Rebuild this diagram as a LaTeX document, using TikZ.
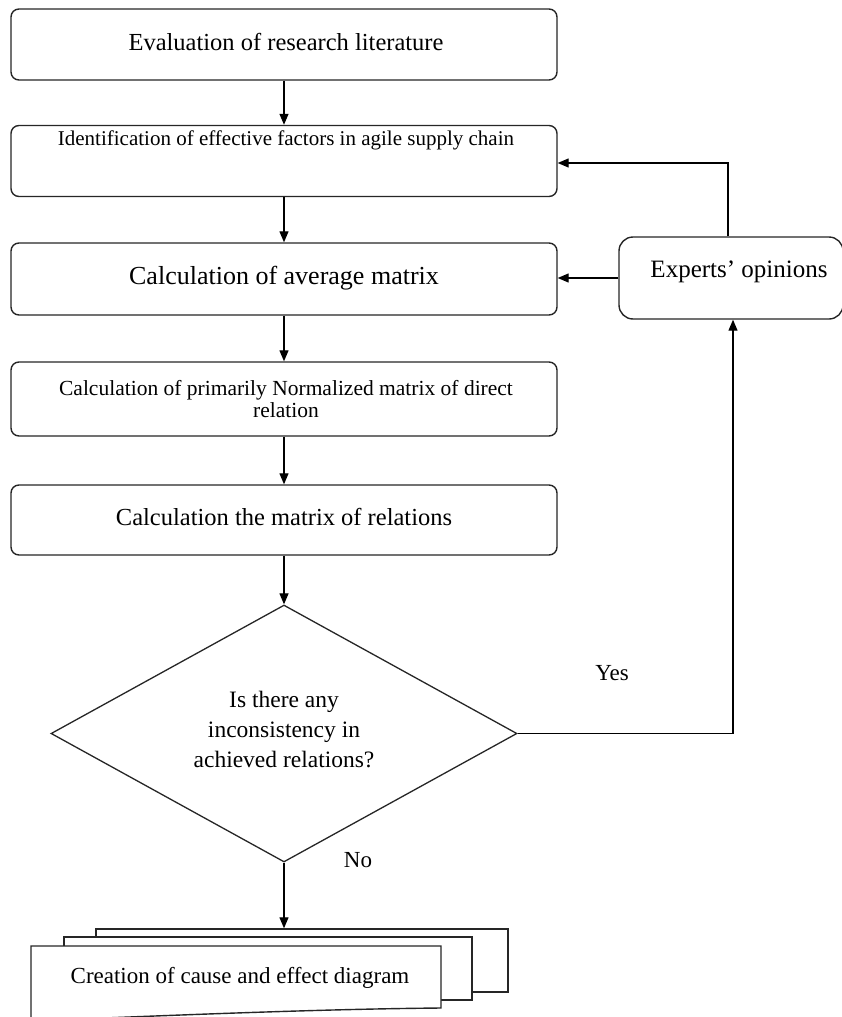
\documentclass[tikz,border=0pt]{standalone}
\usepackage{fontspec}
\setmainfont{Liberation Serif}
\usetikzlibrary{arrows.meta,shapes.geometric}
\begin{document}
\begin{tikzpicture}[x=1pt,y=-1pt,
  box/.style={draw=black!85, line width=1.4pt, rounded corners=8pt, fill=white,
    minimum width=546pt, minimum height=71pt, inner sep=0pt},
  lbl/.style={inner sep=0pt, align=center},
  arr/.style={line width=1.2pt, -{Triangle[length=11pt,width=9pt]}},
  doc/.style={draw=black!85, line width=1.4pt, fill=white}]
\useasboundingbox (0,0) rectangle (842,1017);
% boxes
\node[box] (b1) at (284,44.5) {};
\node[lbl, font=\fontsize{24.5}{27}\selectfont] (t1) at (286,42) {Evaluation of research literature};
\node[box] (b2) at (284,161) {};
\node[lbl, font=\fontsize{21}{24}\selectfont] (t2) at (286,140) {Identification of effective factors in agile supply chain};
\node[box, minimum height=72pt] (b3) at (284,279) {};
\node[lbl, font=\fontsize{26}{29}\selectfont] (t3) at (284,278) {Calculation of average matrix};
\node[box, minimum height=74pt] (b4) at (284,399) {};
\node[lbl, font=\fontsize{21.5}{23}\selectfont] (t4) at (286,399) {Calculation of primarily Normalized matrix of direct\\[-1pt] relation};
\node[box, minimum height=70pt] (b5) at (284,520) {};
\node[lbl, font=\fontsize{24.5}{27}\selectfont] (t5) at (284,517) {Calculation the matrix of relations};
% experts
\node[box, minimum width=224pt, minimum height=82pt, rounded corners=14pt] (ex) at (731,278) {};
\node[lbl, font=\fontsize{25}{28}\selectfont] (tex) at (739,272) {Experts' opinions};
% diamond
\node[draw=black!85, line width=1.3pt, diamond, minimum width=466pt, minimum height=257pt, inner sep=0pt, fill=white] (dia) at (284,733.5) {};
\node[lbl, font=\fontsize{23.5}{30}\selectfont] (tdia) at (284,730) {Is there any\\ inconsistency in\\ achieved relations?};
\node[lbl, font=\fontsize{23}{26}\selectfont] (yes) at (612,673) {Yes};
\node[lbl, font=\fontsize{23}{26}\selectfont] (no) at (358,860) {No};
% multi document
\node[doc, minimum width=412pt, minimum height=63pt, inner sep=0pt] (d3) at (302,960.5) {};
\node[doc, minimum width=408pt, minimum height=63pt, inner sep=0pt] (d2) at (268,968.5) {};
\draw[doc] (31,1030) -- (31,946) -- (441,946) -- (441,1008) .. controls (330,1009) and (200,1014) .. (31,1021);
\node[lbl, font=\fontsize{23}{26}\selectfont] (tdoc) at (240,978) {Creation of cause and effect diagram};
% connectors
\draw[arr] (b1) -- (b2);
\draw[arr] (b2) -- (b3);
\draw[arr] (b3) -- (b4);
\draw[arr] (b4) -- (b5);
\draw[arr] (b5) -- (dia.north);
\draw[arr] (dia.south) -- (dia.south |- d3.north);
\draw[arr] ([xshift=-3pt]ex.north) |- ([yshift=-2pt]b2.east);
\draw[arr] (ex.west) -- (ex.west -| b3.east);
\draw[arr] (dia.east) -| ([xshift=2pt]ex.south);
\end{tikzpicture}
\end{document}
